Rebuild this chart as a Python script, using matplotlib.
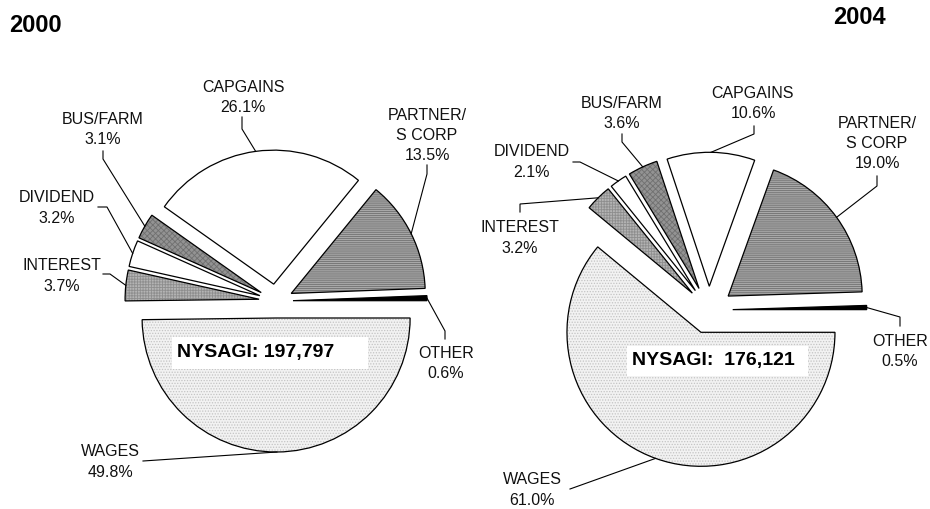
import numpy as np
import matplotlib
matplotlib.use("Agg")
import matplotlib.pyplot as plt
from matplotlib.patches import Rectangle

# -----------------------
# Data
# -----------------------
categories = ["WAGES", "INTEREST", "DIVIDEND", "BUS/FARM", "CAPGAINS", "PARTNER/\nS CORP", "OTHER"]
shares_2000 = [49.8, 3.7, 3.2, 3.1, 26.1, 13.5, 0.6]
shares_2004 = [61.0, 3.2, 2.1, 3.6, 10.6, 19.0, 0.5]
agi_2000 = "NYSAGI: 197,797"
agi_2004 = "NYSAGI:  176,121"
years = ["2000", "2004"]

# -----------------------
# Styles
# -----------------------
W, H = 930, 510
FONT = ["Liberation Sans", "DejaVu Sans"]
plt.rcParams["font.family"] = FONT
plt.rcParams["hatch.linewidth"] = 0.6

# face colour, hatch, hatch colour per category
STYLE = {
    "WAGES": ("#f2f2f2", "......", "#c4c4c4"),
    "INTEREST": ("#b4b4b4", "++++++", "#8e8e8e"),
    "DIVIDEND": ("white", "", "white"),
    "BUS/FARM": ("#939393", "xxxxxx", "#707070"),
    "CAPGAINS": ("white", "", "white"),
    "PARTNER/\nS CORP": ("#a8a8a8", "--------", "#707070"),
    "OTHER": ("black", "", "black"),
}

LINE_GAP = 20.5


def img(x, y):
    # pixel position measured from the top-left corner -> axes data coords
    return x, H - y


def draw_pie(ax, shares, center, radius, offset, label_pos, leaders, box, agi):
    c = img(*center)
    explode = [offset] * len(shares)
    wedges, _ = ax.pie(shares, center=c, radius=radius, startangle=0,
                       counterclock=False, explode=explode)
    for w, name in zip(wedges, categories):
        fc, hatch, hc = STYLE[name]
        w.set_facecolor(fc)
        w.set_edgecolor(hc)
        w.set_hatch(hatch)
        w.set_linewidth(0)
    outline, _ = ax.pie(shares, center=c, radius=radius, startangle=0,
                        counterclock=False, explode=explode,
                        wedgeprops=dict(fill=False, edgecolor="black", linewidth=0.9))

    for w, name, val in zip(outline, categories, shares):
        # label block
        lines = name.split("\n") + [f"{val:.1f}%"]
        lx, ly = label_pos[name]
        for i, s in enumerate(lines):
            ax.text(*img(lx, ly + i * LINE_GAP), s, ha="center", va="center",
                    fontsize=11.5, color="#111111")
        # leader line from the middle of the arc
        tm = np.radians((w.theta1 + w.theta2) / 2)
        ax_, ay_ = w.center[0] + w.r * np.cos(tm), w.center[1] + w.r * np.sin(tm)
        (tx, ty), (ex, ey) = leaders[name]
        p1, p2 = img(tx, ty), img(ex, ey)
        ax.plot([p1[0], p2[0], ax_], [p1[1], p2[1], ay_], color="black", lw=0.8,
                solid_joinstyle="miter")

    bx0, by0, bx1, by1 = box
    ax.add_patch(Rectangle(img(bx0, by1), bx1 - bx0, by1 - by0, fc="white", ec="none", zorder=3))
    ax.text(*img(bx0 + 5, (by0 + by1) / 2 - 1), agi, ha="left", va="center",
            fontsize=14, fontweight="bold", zorder=4)


fig = plt.figure(figsize=(W / 100, H / 100), dpi=100)
ax = fig.add_axes([0, 0, 1, 1])

labels_2000 = {
    "WAGES": (110, 452), "INTEREST": (62, 266), "DIVIDEND": (57, 198),
    "BUS/FARM": (103, 119), "CAPGAINS": (243, 87), "PARTNER/\nS CORP": (427, 115),
    "OTHER": (446, 353),
}
leaders_2000 = {
    "WAGES": ((143, 462), (143, 462)), "INTEREST": ((103, 275), (110, 275)),
    "DIVIDEND": ((98, 208), (107, 208)), "BUS/FARM": ((103, 152), (103, 160)),
    "CAPGAINS": ((242, 118), (242, 130)), "PARTNER/\nS CORP": ((427, 166), (427, 175)),
    "OTHER": ((445, 340), (445, 332)),
}
labels_2004 = {
    "WAGES": (532, 480), "INTEREST": (520, 228), "DIVIDEND": (532, 152),
    "BUS/FARM": (622, 103), "CAPGAINS": (753, 93), "PARTNER/\nS CORP": (877, 123),
    "OTHER": (900, 341),
}
leaders_2004 = {
    "WAGES": ((570, 490), (570, 490)), "INTEREST": ((520, 213), (520, 205)),
    "DIVIDEND": ((573, 163), (580, 163)), "BUS/FARM": ((622, 135), (622, 143)),
    "CAPGAINS": ((754, 127), (754, 135)), "PARTNER/\nS CORP": ((877, 177), (877, 187)),
    "OTHER": ((900, 327), (900, 318)),
}

draw_pie(ax, shares_2000, (276, 302), 134, 17, labels_2000, leaders_2000,
         (172, 338, 368, 370), agi_2000)
draw_pie(ax, shares_2004, (709, 311), 134, 23.7, labels_2004, leaders_2004,
         (627, 347, 808, 377), agi_2004)

ax.text(*img(35, 25), years[0], ha="center", va="center", fontsize=17, fontweight="bold")
ax.text(*img(859, 17.5), years[1], ha="center", va="center", fontsize=17, fontweight="bold")

ax.set_xlim(0, W)
ax.set_ylim(0, H)
ax.set_aspect("equal")
ax.axis("off")

fig.savefig("out.png", dpi=100, facecolor="white")
plt.close(fig)
